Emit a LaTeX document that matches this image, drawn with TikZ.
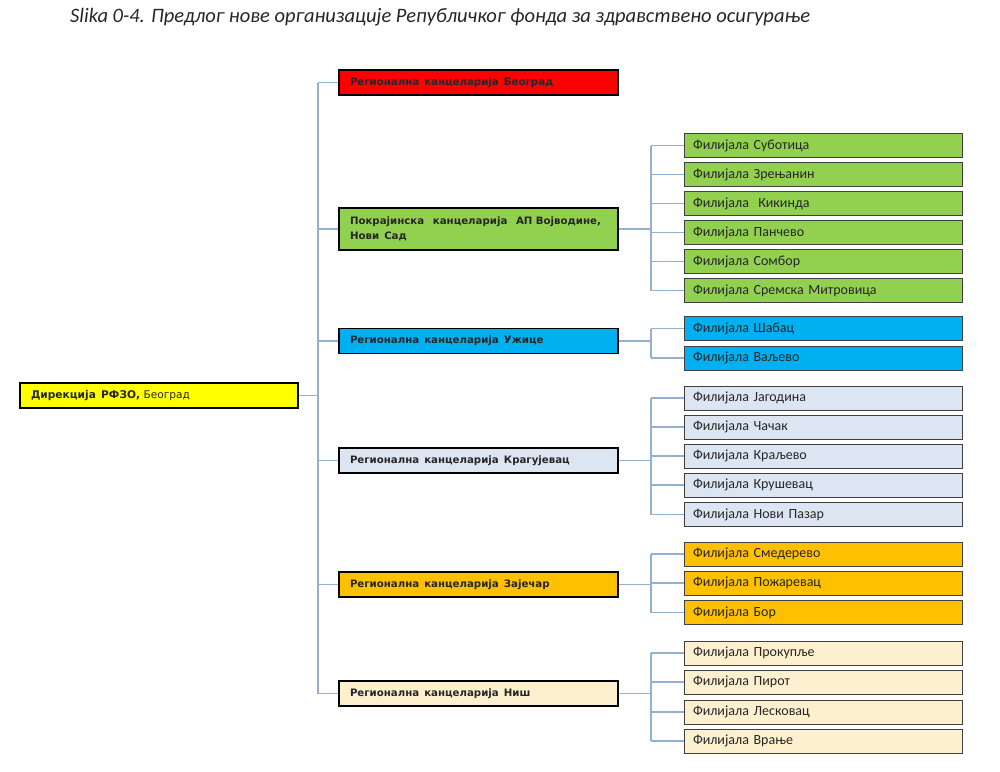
\documentclass[tikz,border=0pt]{standalone}
\usepackage{fontspec}
\setmainfont{Carlito}
\newfontfamily\verd{DejaVu Sans}
\definecolor{cred}{HTML}{FF0000}
\definecolor{cgreen}{HTML}{92D050}
\definecolor{cblue}{HTML}{00B0F0}
\definecolor{clight}{HTML}{DCE6F2}
\definecolor{corange}{HTML}{FFC000}
\definecolor{ccream}{HTML}{FDF0CF}
\definecolor{cyellow}{HTML}{FFFF00}
\definecolor{cline}{HTML}{95AFCF}
\definecolor{ctext}{HTML}{262626}
\tikzset{
  rootbox/.style={draw=black, line width=1.6pt, minimum height=25, text width=256, inner xsep=11, inner ysep=0, align=left, font=\verd\fontsize{10.6}{12}\selectfont, text=ctext, fill=cyellow},
  lvlbox/.style={draw=black, line width=1.6pt, minimum height=25, text width=257, inner xsep=11, inner ysep=3, align=left, font=\verd\bfseries\fontsize{10.2}{15}\selectfont, text=ctext},
  kidbox/.style={draw=black!75, line width=0.8pt, minimum height=24, text width=260, inner xsep=9, inner ysep=0, align=left, font=\fontsize{14}{16}\selectfont, text=ctext},
  conn/.style={draw=cline, line width=1.1pt}
}
\newcommand{\gap}{\hspace{0.5em}}
\newcommand{\wgap}{\hspace{0.85em}}
\begin{document}
\begin{tikzpicture}[x=1pt,y=-1pt]
\useasboundingbox (0,0) rectangle (1000,771);
\node[anchor=west, font=\itshape\fontsize{20.5}{24}\selectfont, text=ctext, inner sep=0] (title) at (70,17) {Slika 0-4. Предлог нове организације Републичког фонда за здравствено осигурање};

\node[rootbox] (root) at (159,395.5) {\textbf{Дирекција\gap РФЗО,} Београд};

\node[lvlbox, fill=cred] (l1) at (478.5,82.5) {Регионална\gap канцеларија\gap Београд};
\node[lvlbox, fill=cgreen, minimum height=42] (l2) at (478.5,229) {Покрајинска\wgap канцеларија\wgap АП Војводине,\\Нови\gap Сад};
\node[lvlbox, fill=cblue] (l3) at (478.5,341) {Регионална\gap канцеларија\gap Ужице};
\node[lvlbox, fill=clight] (l4) at (478.5,460.5) {Регионална\gap канцеларија\gap Крагујевац};
\node[lvlbox, fill=corange] (l5) at (478.5,584.5) {Регионална\gap канцеларија\gap Зајечар};
\node[lvlbox, fill=ccream] (l6) at (478.5,693.5) {Регионална\gap канцеларија\gap Ниш};

% Vojvodina
\node[kidbox, fill=cgreen] (g1) at (823,145.5) {Филијала Суботица};
\node[kidbox, fill=cgreen] (g2) at (823,174.5) {Филијала Зрењанин};
\node[kidbox, fill=cgreen] (g3) at (823,203.5) {Филијала\ \ Кикинда};
\node[kidbox, fill=cgreen] (g4) at (823,232.5) {Филијала Панчево};
\node[kidbox, fill=cgreen] (g5) at (823,261.5) {Филијала Сомбор};
\node[kidbox, fill=cgreen] (g6) at (823,290.5) {Филијала Сремска Митровица};
% Uzice
\node[kidbox, fill=cblue] (b1) at (823,328.5) {Филијала Шабац};
\node[kidbox, fill=cblue] (b2) at (823,358) {Филијала Ваљево};
% Kragujevac
\node[kidbox, fill=clight] (k1) at (823,398) {Филијала Јагодина};
\node[kidbox, fill=clight] (k2) at (823,427) {Филијала Чачак};
\node[kidbox, fill=clight] (k3) at (823,456) {Филијала Краљево};
\node[kidbox, fill=clight] (k4) at (823,485) {Филијала Крушевац};
\node[kidbox, fill=clight] (k5) at (823,514.5) {Филијала Нови Пазар};
% Zajecar
\node[kidbox, fill=corange] (o1) at (823,554) {Филијала Смедерево};
\node[kidbox, fill=corange] (o2) at (823,583) {Филијала Пожаревац};
\node[kidbox, fill=corange] (o3) at (823,612.5) {Филијала Бор};
% Nis
\node[kidbox, fill=ccream] (n1) at (823,653) {Филијала Прокупље};
\node[kidbox, fill=ccream] (n2) at (823,682) {Филијала Пирот};
\node[kidbox, fill=ccream] (n3) at (823,712) {Филијала Лесковац};
\node[kidbox, fill=ccream] (n4) at (823,741) {Филијала Врање};

% trunk
\coordinate (t) at (318,395.5);
\draw[conn] (root.east) -- (t);
\draw[conn] (t |- l1.west) -- (t |- l6.west);
\foreach \l in {l1,l2,l3,l4,l5,l6} \draw[conn] (t |- \l.west) -- (\l.west);

% branches
\coordinate (bx) at (651,0);
\draw[conn] (l2.east) -- (bx |- l2.east);
\draw[conn] (bx |- g1.west) -- (bx |- g6.west);
\foreach \k in {g1,g2,g3,g4,g5,g6} \draw[conn] (bx |- \k.west) -- (\k.west);

\draw[conn] (l3.east) -- (bx |- l3.east);
\draw[conn] (bx |- b1.west) -- (bx |- b2.west);
\foreach \k in {b1,b2} \draw[conn] (bx |- \k.west) -- (\k.west);

\draw[conn] (l4.east) -- (bx |- l4.east);
\draw[conn] (bx |- k1.west) -- (bx |- k5.west);
\foreach \k in {k1,k2,k3,k4,k5} \draw[conn] (bx |- \k.west) -- (\k.west);

\draw[conn] (l5.east) -- (bx |- l5.east);
\draw[conn] (bx |- o1.west) -- (bx |- o3.west);
\foreach \k in {o1,o2,o3} \draw[conn] (bx |- \k.west) -- (\k.west);

\draw[conn] (l6.east) -- (bx |- l6.east);
\draw[conn] (bx |- n1.west) -- (bx |- n4.west);
\foreach \k in {n1,n2,n3,n4} \draw[conn] (bx |- \k.west) -- (\k.west);
\end{tikzpicture}
\end{document}
